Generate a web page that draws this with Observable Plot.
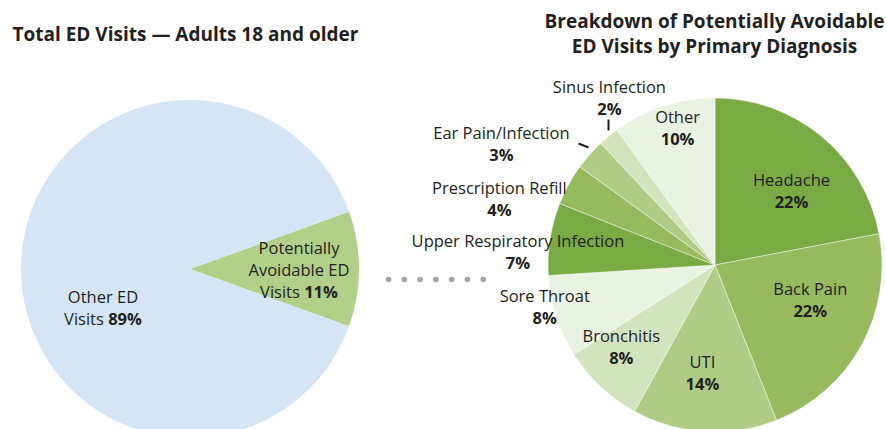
<!DOCTYPE html>
<html><head><meta charset="utf-8">
<script src="https://cdn.jsdelivr.net/npm/d3@7"></script>
<script src="https://cdn.jsdelivr.net/npm/@observablehq/plot@0.6"></script>
<style>body{margin:0;background:#fff} svg{display:block}</style>
</head><body><div id="chart"></div>
<script>
// ---- data ----
const totalCategories = ["Potentially Avoidable ED Visits", "Other ED Visits"];
const totalValues = [11, 89];
const diagnoses = ["Headache","Back Pain","UTI","Bronchitis","Sore Throat","Upper Respiratory Infection","Prescription Refill","Ear Pain/Infection","Sinus Infection","Other"];
const diagnosisValues = [22, 22, 14, 8, 8, 7, 4, 3, 2, 10];
const leftTitle = "Total ED Visits — Adults 18 and older";
const rightTitle = ["Breakdown of Potentially Avoidable", "ED Visits by Primary Diagnosis"];

// ---- styles / layout ----
const FONT = "'Open Sans', sans-serif";
const INK = "#231f20";
const LABEL_SIZE = 16.5;
const TITLE_SIZE = 19;
const leftFills = ["#b0d08a", "#d4e6f5"];
const rightFills = ["#7aaa43","#96bb5f","#aecc86","#d3e3bd","#eaf2e1","#7aaa43","#96bb5f","#aecc86","#d3e3bd","#eaf2e1"];
const L = {cx: 190, cy: 269, r: 169};
const R = {cx: 715, cy: 265, r: 167};
// label anchors relative to right pie centre: [angle deg clockwise from top, distance px]
const rightLabelPolar = {
  "Headache": [45.8, 106], "Back Pain": [110.2, 101], "UTI": [186.9, 109], "Bronchitis": [228.9, 125],
  "Sore Throat": [256, 176], "Upper Respiratory Infection": [273.8, 198], "Prescription Refill": [287, 226],
  "Ear Pain/Infection": [299.5, 246], "Sinus Infection": [327.6, 198], "Other": [344.5, 142]
};
const leaderTicks = {"Sinus Infection": [[608,119],[608,130]], "Ear Pain/Infection": [[578,143],[588,147]]};

const polar = (c, a, d) => [c.cx + d * Math.sin(a * Math.PI / 180), c.cy - d * Math.cos(a * Math.PI / 180)];

function pieMark(values, c, start, fills, strokeOpts) {
  return (index, scales) => {
    const sx = typeof scales.x === "function" ? scales.x : (v) => v;
    const sy = typeof scales.y === "function" ? scales.y : (v) => v;
    const arcs = d3.pie().sort(null).startAngle(start).endAngle(start + 2 * Math.PI)(values);
    const arc = d3.arc().innerRadius(0).outerRadius(c.r);
    const g = d3.create("svg:g").attr("transform", `translate(${sx(c.cx)},${sy(c.cy)})`);
    g.selectAll("path").data(arcs).join("path")
      .attr("d", arc).attr("fill", (d, i) => fills[i])
      .attr("stroke", strokeOpts ? strokeOpts.stroke : "none")
      .attr("stroke-width", strokeOpts ? strokeOpts.width : 0)
      .attr("stroke-opacity", strokeOpts ? strokeOpts.opacity : 0)
      .attr("stroke-linejoin", "round");
    return g.node();
  };
}

// rich (mixed-weight) multi-line labels for left pie
function richText(items) {
  return (index, scales) => {
    const sx = typeof scales.x === "function" ? scales.x : (v) => v;
    const sy = typeof scales.y === "function" ? scales.y : (v) => v;
    const g = d3.create("svg:g").attr("font-family", FONT).attr("font-size", LABEL_SIZE).attr("fill", INK).attr("text-anchor", "middle");
    for (const it of items) {
      it.lines.forEach((line, li) => {
        const t = g.append("text").attr("x", sx(it.x)).attr("y", sy(it.y + li * 22));
        line.forEach(([s, bold]) => t.append("tspan").attr("font-weight", bold ? 700 : 400).text(s));
      });
    }
    return g.node();
  };
}

const leftStart = Math.PI / 2 - (totalValues[0] / d3.sum(totalValues)) * Math.PI;
const pct = (v) => `${v}%`;

const rightLabels = diagnoses.map((name, i) => {
  const [x, y] = polar(R, ...rightLabelPolar[name]);
  return {name, pct: pct(diagnosisValues[i]), x, y};
});
const ticks = Object.entries(leaderTicks).map(([k, [a, b]]) => ({k, x1: a[0], y1: a[1], x2: b[0], y2: b[1]}));
const dots = d3.range(7).map(i => ({x: 388 + i * 15.8, y: 279}));

const chart = Plot.plot({
  width: 886, height: 429, margin: 0,
  x: {domain: [0, 886], range: [0, 886], axis: null},
  y: {domain: [0, 429], range: [0, 429], axis: null},
  style: {fontFamily: FONT, background: "#fff"},
  marks: [
    pieMark(totalValues, L, leftStart, leftFills, null),
    pieMark(diagnosisValues, R, 0, rightFills, {stroke: "#ffffff", width: 0.8, opacity: 0.55}),
    richText([
      {x: 103, y: 303, lines: [[["Other ED", false]], [["Visits ", false], [pct(totalValues[1]), true]]]},
      {x: 299, y: 254, lines: [[["Potentially", false]], [["Avoidable ED", false]], [["Visits ", false], [pct(totalValues[0]), true]]]}
    ]),
    Plot.dot(dots, {x: "x", y: "y", r: 2.8, fill: "#a3a3a5", stroke: null}),
    Plot.text(rightLabels, {x: "x", y: "y", text: "name", dy: -11, fontSize: LABEL_SIZE, fill: INK, fontFamily: FONT}),
    Plot.text(rightLabels, {x: "x", y: "y", text: "pct", dy: 11, fontSize: LABEL_SIZE, fontWeight: 700, fill: INK, fontFamily: FONT}),
    Plot.link(ticks, {x1: "x1", y1: "y1", x2: "x2", y2: "y2", stroke: INK, strokeWidth: 2}),
    Plot.text([leftTitle], {x: 12, y: 40, text: d => d, textAnchor: "start", lineAnchor: "bottom", fontSize: TITLE_SIZE, fontWeight: 700, fill: INK, fontFamily: FONT}),
    Plot.text(rightTitle, {x: 714, y: (d, i) => 27 + i * 25, text: d => d, textAnchor: "middle", lineAnchor: "bottom", fontSize: TITLE_SIZE, fontWeight: 700, fill: INK, fontFamily: FONT})
  ]
});
document.getElementById("chart").appendChild(chart);
</script>
</body></html>
